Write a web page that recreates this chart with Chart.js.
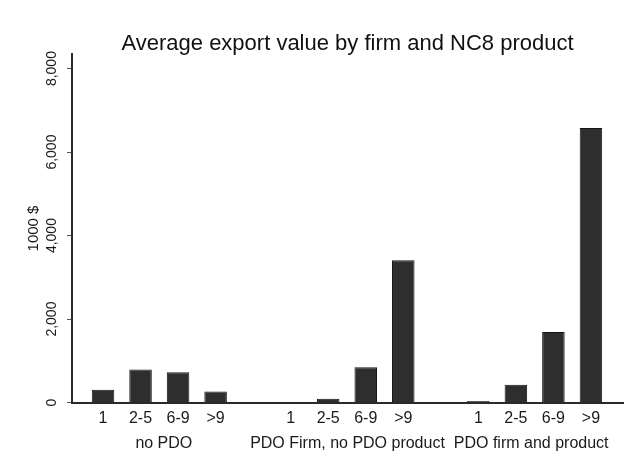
<!DOCTYPE html>
<html>
<head>
<meta charset="utf-8">
<script src="https://cdn.jsdelivr.net/npm/chart.js@4/dist/chart.umd.min.js"></script>
<style>
  html, body { margin: 0; padding: 0; background: #ffffff; }
  #wrap { width: 629px; height: 457px; }
</style>
</head>
<body>
<div id="wrap"><canvas id="grafico"></canvas></div>
<script>
// categorias (com espacos vazios entre os grupos)
const faixas = ["1", "2-5", "6-9", ">9", "", "1", "2-5", "6-9", ">9", "", "1", "2-5", "6-9", ">9"];
const grupos = ["no PDO", "PDO Firm, no PDO product", "PDO firm and product"];

// valor medio exportado (1000 $)
const noPDO = [305, 793, 728, 264];
const firmaPDO = [0, 90, 848, 3410];
const firmaProdutoPDO = [40, 425, 1689, 6580];

const valores = [...noPDO, null, ...firmaPDO, null, ...firmaProdutoPDO];
const ticksY = [0, 2000, 4000, 6000, 8000];

const fonte = "'Liberation Sans', Arial, sans-serif";

const ctx = document.getElementById("grafico").getContext("2d");
new Chart(ctx, {
    type: "bar",
    data: {
        labels: faixas,
        datasets: [{
            label: "1000 $",
            data: valores,
            backgroundColor: "#2e2e2e",
            borderColor: "#151515",
            borderWidth: 1,
            barPercentage: 0.6,
            categoryPercentage: 1
        }]
    },
    options: {
        responsive: true,
        maintainAspectRatio: false,
        animation: false,
        layout: { padding: { left: 0, right: 6, top: 0, bottom: 4 } },
        plugins: {
            legend: { display: false },
            tooltip: { enabled: false },
            title: {
                display: true,
                text: "Average export value by firm and NC8 product",
                fullSize: false,
                color: "#111",
                font: { family: fonte, size: 22, weight: "normal" },
                padding: { top: 31, bottom: -3 }
            }
        },
        scales: {
            x: {
                type: "category",
                grid: { display: false, drawTicks: false },
                border: { display: true, color: "#2a2a2a", width: 2 },
                ticks: {
                    color: "#1a1a1a",
                    font: { family: fonte, size: 16 },
                    padding: 6,
                    autoSkip: false,
                    maxRotation: 0
                },
                // abre margem nas pontas como no original
                afterBuildTicks: scale => {
                    scale._startValue = -0.826;
                    scale._valueRange = 14.68;
                }
            },
            grupos: {
                type: "category",
                position: "bottom",
                labels: grupos,
                offset: true,
                grid: { display: false, drawTicks: false },
                border: { display: false },
                ticks: {
                    color: "#1a1a1a",
                    font: { family: fonte, size: 16 },
                    padding: 0,
                    autoSkip: false,
                    maxRotation: 0
                }
            },
            y: {
                min: 0,
                max: 8340,
                grid: { display: true, drawOnChartArea: false, drawTicks: true, tickLength: 5, color: "#555" },
                border: { display: true, color: "#2a2a2a", width: 2 },
                ticks: {
                    stepSize: 2000,
                    minRotation: 90,
                    maxRotation: 90,
                    crossAlign: "center",
                    padding: -3,
                    color: "#1a1a1a",
                    font: { family: fonte, size: 14 },
                    callback: v => v.toLocaleString("en-US")
                },
                afterBuildTicks: scale => {
                    scale.ticks = ticksY.map(v => ({ value: v }));
                },
                title: {
                    display: true,
                    text: "1000 $",
                    color: "#1a1a1a",
                    font: { family: fonte, size: 15 },
                    padding: { top: 25, bottom: 0 }
                },
                afterFit: scale => { scale.width = 72; }
            }
        }
    }
});
</script>
</body>
</html>
